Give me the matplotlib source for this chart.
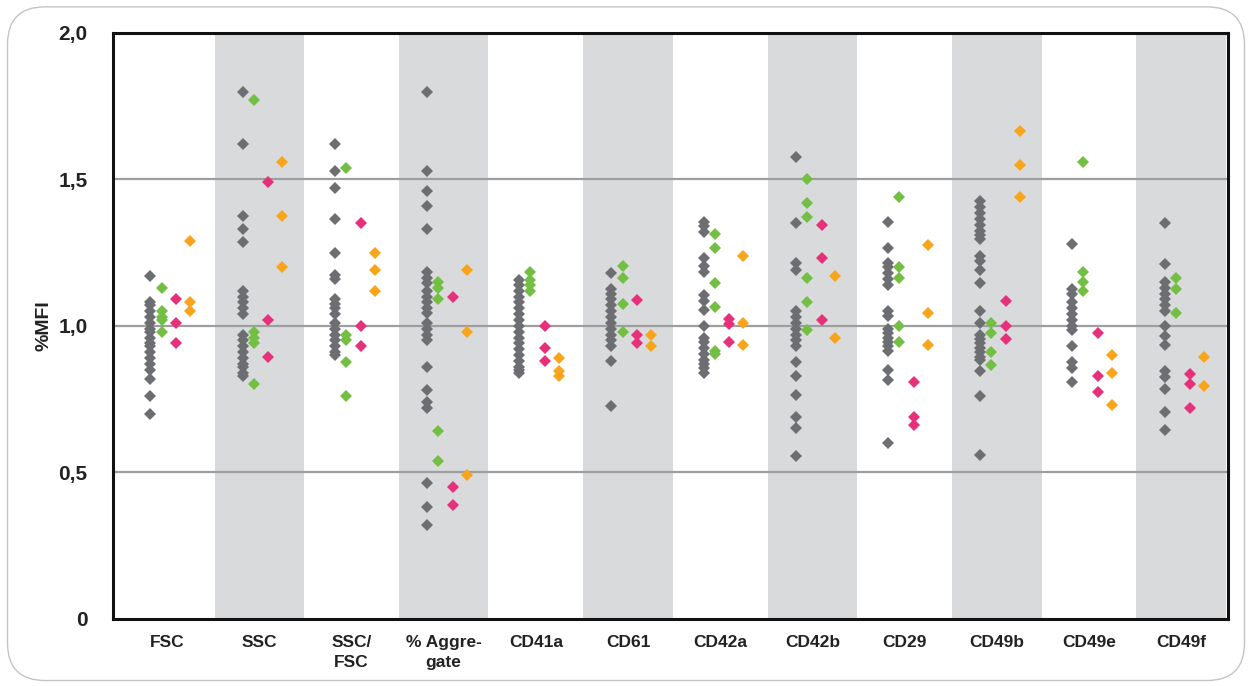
import matplotlib.pyplot as plt
from matplotlib.patches import FancyBboxPatch

plt.rcParams['font.family'] = ['Liberation Sans', 'DejaVu Sans']

categories = ["FSC", "SSC", "SSC/\nFSC", "% Aggre-\ngate", "CD41a", "CD61",
              "CD42a", "CD42b", "CD29", "CD49b", "CD49e", "CD49f"]

# one list of %MFI values per category, per series
grey_vals = [
    [1.17, 1.08, 1.07, 1.05, 1.03, 1.01, 0.99, 0.98, 0.96, 0.94, 0.93, 0.91, 0.89, 0.87, 0.85, 0.82, 0.76, 0.70],
    [1.80, 1.62, 1.375, 1.33, 1.285, 1.12, 1.10, 1.08, 1.06, 1.04, 0.97, 0.95, 0.93, 0.91, 0.89, 0.87, 0.86, 0.84, 0.83],
    [1.62, 1.53, 1.47, 1.365, 1.25, 1.175, 1.16, 1.09, 1.075, 1.06, 1.04, 1.01, 0.99, 0.97, 0.95, 0.93, 0.91, 0.90],
    [1.80, 1.53, 1.46, 1.41, 1.33, 1.185, 1.165, 1.145, 1.12, 1.10, 1.08, 1.06, 1.045, 1.01, 0.99, 0.97, 0.95,
     0.86, 0.78, 0.74, 0.72, 0.465, 0.38, 0.32],
    [1.155, 1.14, 1.12, 1.10, 1.08, 1.06, 1.04, 1.02, 1.00, 0.98, 0.96, 0.94, 0.92, 0.90, 0.88, 0.86, 0.85, 0.84],
    [1.18, 1.125, 1.11, 1.09, 1.07, 1.05, 1.03, 1.01, 0.99, 0.97, 0.95, 0.93, 0.88, 0.725],
    [1.355, 1.34, 1.32, 1.23, 1.205, 1.185, 1.105, 1.085, 1.055, 1.0, 0.96, 0.945, 0.925, 0.905, 0.885, 0.87, 0.855, 0.84],
    [1.575, 1.35, 1.215, 1.19, 1.05, 1.03, 1.01, 0.99, 0.97, 0.95, 0.93, 0.875, 0.83, 0.765, 0.69, 0.65, 0.555],
    [1.355, 1.265, 1.215, 1.20, 1.18, 1.16, 1.14, 1.05, 1.035, 0.99, 0.975, 0.96, 0.945, 0.93, 0.915, 0.85, 0.815, 0.60],
    [1.425, 1.405, 1.385, 1.365, 1.345, 1.325, 1.31, 1.295, 1.24, 1.22, 1.19, 1.145, 1.05, 1.01, 0.97, 0.955,
     0.94, 0.925, 0.91, 0.895, 0.885, 0.845, 0.76, 0.56],
    [1.28, 1.125, 1.11, 1.08, 1.06, 1.04, 1.02, 1.0, 0.985, 0.93, 0.875, 0.855, 0.81],
    [1.35, 1.21, 1.15, 1.13, 1.11, 1.09, 1.07, 1.05, 1.0, 0.965, 0.935, 0.845, 0.825, 0.785, 0.705, 0.645],
]
green_vals = [
    [1.13, 1.05, 1.03, 1.02, 0.98],
    [1.77, 0.98, 0.96, 0.94, 0.80],
    [1.54, 0.97, 0.95, 0.875, 0.76],
    [1.15, 1.13, 1.09, 0.64, 0.54],
    [1.185, 1.155, 1.14, 1.12],
    [1.205, 1.165, 1.075, 0.98],
    [1.315, 1.265, 1.145, 1.065, 0.915, 0.905],
    [1.50, 1.42, 1.37, 1.165, 1.08, 0.985],
    [1.44, 1.20, 1.165, 1.0, 0.945],
    [1.01, 0.975, 0.91, 0.865],
    [1.56, 1.185, 1.15, 1.12],
    [1.165, 1.125, 1.045],
]
pink_vals = [
    [1.09, 1.01, 0.94],
    [1.49, 1.02, 0.895],
    [1.35, 1.0, 0.93],
    [1.10, 0.45, 0.39],
    [1.0, 0.925, 0.88],
    [1.087, 0.968, 0.94],
    [1.025, 1.005, 0.945],
    [1.345, 1.23, 1.02],
    [0.81, 0.69, 0.66],
    [1.085, 1.0, 0.955],
    [0.975, 0.83, 0.775],
    [0.835, 0.80, 0.72],
]
orange_vals = [
    [1.29, 1.08, 1.05],
    [1.56, 1.375, 1.20],
    [1.25, 1.19, 1.12],
    [1.19, 0.98, 0.49],
    [0.89, 0.845, 0.83],
    [0.97, 0.93],
    [1.24, 1.01, 0.935],
    [1.17, 0.96],
    [1.275, 1.045, 0.935],
    [1.665, 1.55, 1.44],
    [0.90, 0.84, 0.73],
    [0.895, 0.795],
]

series = [
    (grey_vals, "#6d6e71", -0.18),
    (green_vals, "#72bf44", -0.06),
    (pink_vals, "#e6317a", 0.10),
    (orange_vals, "#f9a51b", 0.25),
]

fig = plt.figure(figsize=(12.52, 6.86), dpi=100)
ax = fig.add_axes([0.090, 0.098, 0.891, 0.854])

# outer rounded frame
frame = FancyBboxPatch((0.006, 0.008), 0.988, 0.982, boxstyle="round,pad=0,rounding_size=0.03",
                       transform=fig.transFigure, facecolor="none", edgecolor="#c4c4c4", lw=1.0,
                       mutation_aspect=1.82)
fig.patches.append(frame)

# alternating grey bands
for i in range(1, len(categories), 2):
    ax.axvspan(i - 0.485, i + 0.485, color="#d9dadb", lw=0, zorder=0)

for y in [0.5, 1.0, 1.5]:
    ax.axhline(y, color="#9e9e9e", lw=1.6, zorder=1)

for vals, col, off in series:
    for i, v in enumerate(vals):
        ax.plot([i + off] * len(v), v, ls="none", marker="D", ms=6, mew=0, color=col, zorder=3)

ax.set_xlim(-0.59, 11.51)
ax.set_ylim(0, 2.0)
ax.set_yticks([0, 0.5, 1.0, 1.5, 2.0])
ax.set_yticklabels(["0", "0,5", "1,0", "1,5", "2,0"], fontsize=15, fontweight="bold", color="#222222")
ax.set_xticks(range(len(categories)))
ax.set_xticklabels(categories, fontsize=12.5, fontweight="bold", color="#222222", linespacing=1.35)
ax.tick_params(length=0, pad=18, axis="y")
ax.tick_params(length=0, pad=12, axis="x")
ax.set_ylabel("%MFI", fontsize=14, fontweight="bold", color="#222222", labelpad=4)

for s in ax.spines.values():
    s.set_linewidth(2.2)
    s.set_color("#111111")

fig.savefig("out.png", dpi=100)
